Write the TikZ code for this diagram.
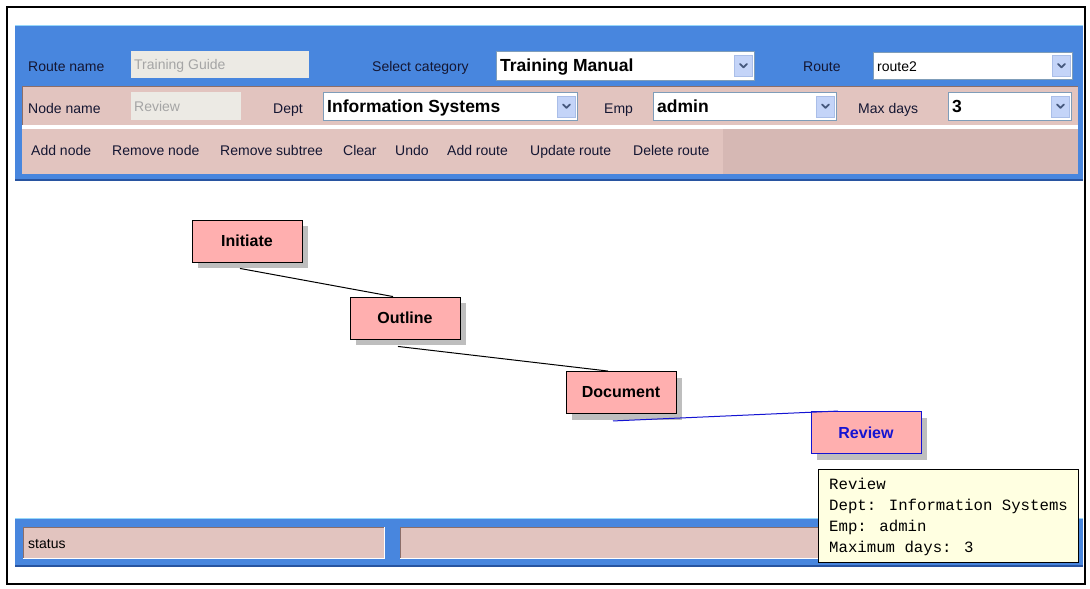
\documentclass[tikz,border=0pt]{standalone}
\usepackage{fontspec}
\setmainfont{Liberation Sans}
\newfontfamily\tipmono{Liberation Mono}
\usetikzlibrary{calc,shadows}

\definecolor{panelblue}{RGB}{72,134,222}
\definecolor{panellight}{RGB}{150,215,250}
\definecolor{paneldark}{RGB}{40,84,160}
\definecolor{strippink}{RGB}{226,196,191}
\definecolor{strippinkdark}{RGB}{214,184,180}
\definecolor{fieldgrey}{RGB}{236,234,228}
\definecolor{greytxt}{RGB}{165,165,165}
\definecolor{labeltxt}{RGB}{20,22,50}
\definecolor{btnblue}{RGB}{196,212,248}
\definecolor{btnedge}{RGB}{170,190,232}
\definecolor{chevroncol}{RGB}{70,88,125}
\definecolor{comboedge}{RGB}{127,157,185}
\definecolor{nodepink}{RGB}{255,175,175}
\definecolor{shadowgrey}{RGB}{190,190,190}
\definecolor{routeblue}{RGB}{20,20,210}
\definecolor{tipfill}{RGB}{255,255,225}
\definecolor{insetedge}{RGB}{140,110,105}

\newcommand{\uilab}{\fontsize{14}{16}\selectfont}
\newcommand{\uibold}{\fontsize{17.5}{20}\selectfont\bfseries}
\newcommand{\graphfont}{\fontsize{16}{18}\selectfont\bfseries}
\newcommand{\tipfont}{\tipmono\fontsize{15.7}{18}\selectfont}

% a drop-down field: name, north-west corner, width, height, content
\newcommand{\uicombo}[5]{%
  \node[combobox, anchor=north west, minimum width=#3, minimum height=#4] (#1) at #2 {};
  \node[anchor=base west, inner sep=0] (#1-text) at ($(#1.west)+(4,6)$) {#5};
  \node[arrowbtn, anchor=east] (#1-btn) at ($(#1.east)+(-2,0)$) {};
  \draw[chevron] ($(#1-btn.center)+(-3.5,-2)$) -- ($(#1-btn.center)+(0,1.5)$) -- ($(#1-btn.center)+(3.5,-2)$);
}

\begin{document}
\begin{tikzpicture}[x=1pt,y=-1pt,
  lbl/.style={anchor=base west, inner sep=0, font=\uilab, text=labeltxt},
  greylbl/.style={anchor=base west, inner sep=0, font=\uilab, text=greytxt},
  textfield/.style={fill=fieldgrey, draw=none, inner sep=0},
  combobox/.style={fill=white, draw=comboedge, line width=0.8pt, inner sep=0},
  arrowbtn/.style={fill=btnblue, draw=btnedge, line width=0.6pt, minimum width=18, minimum height=21, inner sep=0},
  chevron/.style={draw=chevroncol, line width=1.7pt, line cap=round, line join=round},
  stepnode/.style={fill=nodepink, draw=black, line width=0.9pt, minimum width=110, minimum height=42,
    inner sep=0, font=\graphfont,
    drop shadow={shadow xshift=6pt, shadow yshift=-6pt, fill=shadowgrey, opacity=1}},
  link/.style={draw=black, line width=1pt},
  statusfield/.style={fill=strippink, draw=none, inner sep=0, anchor=north west},
  tipbox/.style={fill=tipfill, draw=black, line width=1pt, inner sep=0, anchor=north west},
  tipline/.style={anchor=base west, inner sep=0, font=\tipfont}
]
\useasboundingbox (0,0) rectangle (1090,589);
\fill[white] (0,0) rectangle (1090,589);

% ---------- toolbar panel ----------
\fill[panelblue] (15,25) rectangle (1083,181);
\draw[panellight, line width=1.5pt] (15,25.5) -- (1083,25.5);
\draw[paneldark, line width=2pt] (15,180) -- (1083,180);

% row 1
\node[lbl] (lroutename) at (28,71) {Route name};
\node[textfield, anchor=north west, minimum width=178, minimum height=27] (froutename) at (131,51) {};
\node[greylbl] (vroutename) at (134,69.5) {Training Guide};
\node[lbl] (lcategory) at (372,71) {Select category};
\uicombo{ccategory}{(496,51)}{258}{29}{\uibold Training Manual}
\node[lbl] (lroute) at (803,71) {Route};
\uicombo{croute}{(873,52)}{199}{27}{\uilab route2}

% row 2
\fill[strippink] (22,86) rectangle (1078,125);
\draw[insetedge, line width=1pt] (22,125) -- (22,86) -- (1078,86);
\fill[white] (22,125) rectangle (1078,128.5);
\node[lbl] (lnodename) at (28,113) {Node name};
\node[textfield, anchor=north west, minimum width=110, minimum height=28] (fnodename) at (131,92) {};
\node[greylbl] (vnodename) at (134,111) {Review};
\node[lbl] (ldept) at (273,113) {Dept};
\uicombo{cdept}{(323,92)}{254}{28}{\uibold Information Systems}
\node[lbl] (lemp) at (604,113) {Emp};
\uicombo{cemp}{(653,92)}{183}{28}{\uibold admin}
\node[lbl] (ldays) at (858,113) {Max days};
\uicombo{cdays}{(948,92)}{123}{28}{\uibold 3}

% row 3: buttons
\fill[strippink] (22,129) rectangle (723,174);
\fill[strippinkdark] (723,129) rectangle (1078,174);
\node[lbl] (baddnode) at (31,155) {Add node};
\node[lbl] (bremnode) at (112,155) {Remove node};
\node[lbl] (bremsub) at (220,155) {Remove subtree};
\node[lbl] (bclear) at (343,155) {Clear};
\node[lbl] (bundo) at (395,155) {Undo};
\node[lbl] (baddroute) at (447,155) {Add route};
\node[lbl] (bupdroute) at (530,155) {Update route};
\node[lbl] (bdelroute) at (633,155) {Delete route};

% ---------- route graph ----------
\node[stepnode] (initiate) at (247,241) {Initiate};
\node[stepnode] (outline) at (405,318) {Outline};
\node[stepnode] (document) at (621,392.5) {Document};
\node[stepnode, draw=routeblue, text=routeblue] (review) at (866,432.5) {Review};

\coordinate (initiate-out) at ($(initiate.south)+(-7,6)$);
\coordinate (outline-in) at ($(outline.north)+(-12,0)$);
\coordinate (outline-out) at ($(outline.south)+(-7,7)$);
\coordinate (document-in) at ($(document.north)+(-13,0)$);
\coordinate (document-out) at ($(document.south)+(-8,7)$);
\coordinate (review-in) at ($(review.north)+(-28,0)$);

\draw[link] (initiate-out) -- (outline-in);
\draw[link] (outline-out) -- (document-in);
\draw[link, draw=routeblue] (document-out) -- (review-in);

% ---------- status bar ----------
\fill[panelblue] (15,518) rectangle (1083,567);
\draw[panellight, line width=1.5pt] (15,518.5) -- (1083,518.5);
\draw[paneldark, line width=1.5pt] (15,566) -- (1083,566);
\node[statusfield, minimum width=361, minimum height=31] (status) at (23,527) {};
\draw[insetedge, line width=1pt] (status.south west) -- (status.north west) -- (status.north east);
\draw[white, line width=1.5pt] (status.south west) -- (status.south east) -- (status.north east);
\node[lbl, text=black] (statustext) at (28,548) {status};
\node[statusfield, minimum width=675, minimum height=31] (message) at (400,527) {};
\draw[insetedge, line width=1pt] (message.south west) -- (message.north west) -- (message.north east);
\draw[white, line width=1.5pt] (message.south west) -- (message.south east);

% ---------- tooltip ----------
\node[tipbox, minimum width=260, minimum height=93] (tip) at (818,469) {};
\node[tipline] (tip1) at (829,489) {Review};
\node[tipline] (tip2) at (829,510) {Dept: Information Systems};
\node[tipline] (tip3) at (829,531) {Emp: admin};
\node[tipline] (tip4) at (829,552) {Maximum days: 3};

% ---------- outer frame ----------
\draw[black, line width=2pt] (7,7) rectangle (1085,584);
\end{tikzpicture}
\end{document}
